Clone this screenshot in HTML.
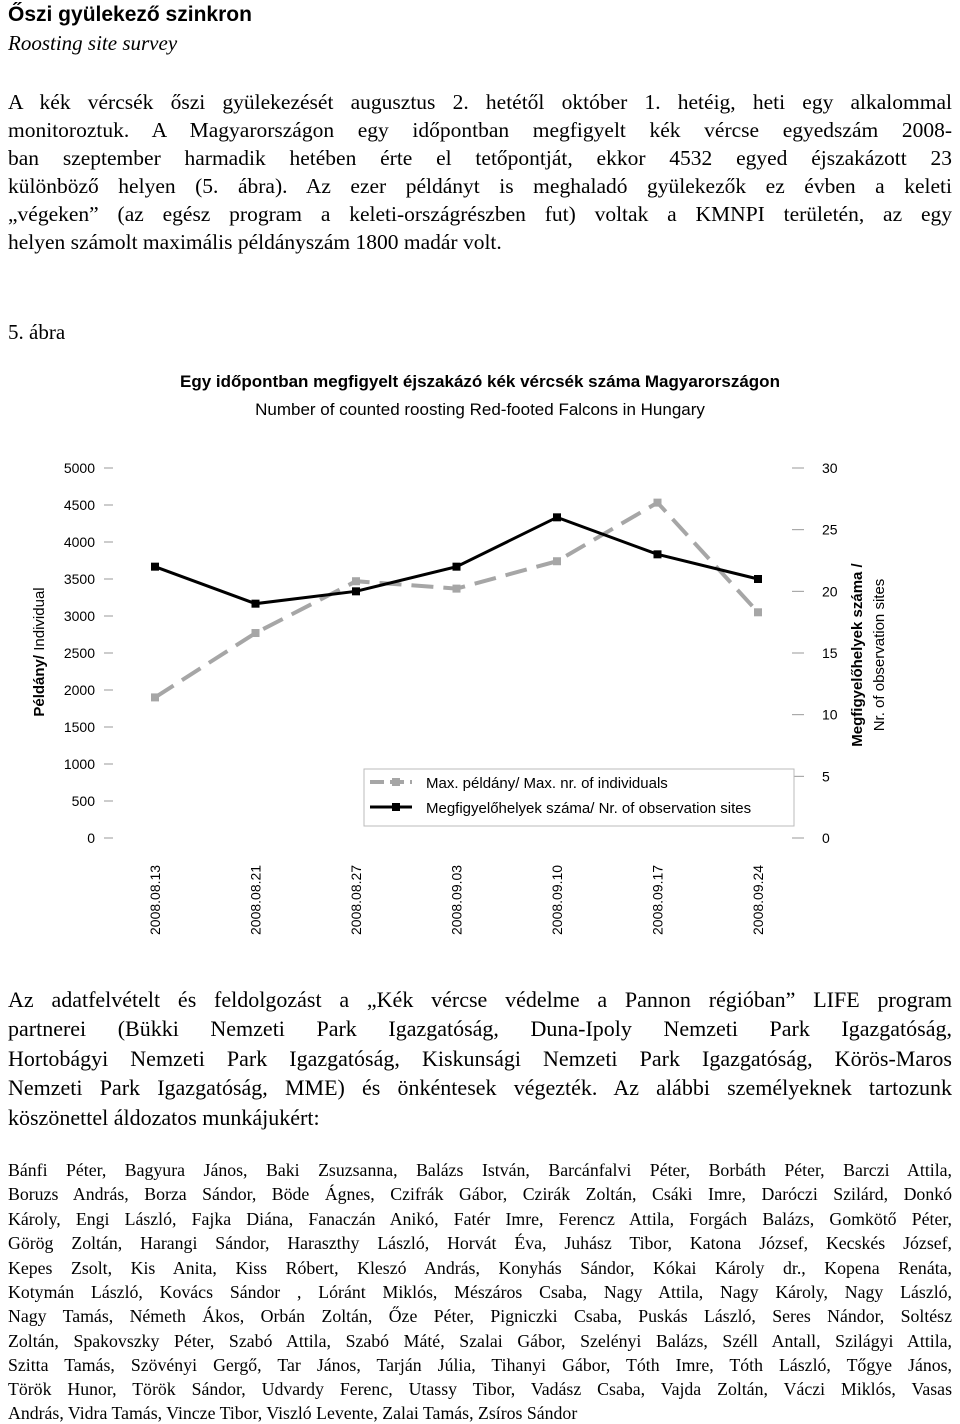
<!DOCTYPE html>
<html><head><meta charset="utf-8"><style>
body{margin:0;width:960px;height:1424px;position:relative;background:#fff;overflow:hidden}
.t{position:absolute;left:8px;width:944px;font-family:"Liberation Serif",serif;white-space:nowrap}
.j{text-align:justify;text-align-last:justify;white-space:normal}
.s{font-family:"Liberation Sans",sans-serif}
</style></head><body>
<div class="t s" style="top:3px;font-size:21px;font-weight:bold">Őszi gyülekező szinkron</div>
<div class="t" style="top:31px;font-size:21px;font-style:italic">Roosting site survey</div>
<div style="font-size:21.5px">
<div class="t j" style="top:90px">A kék vércsék őszi gyülekezését augusztus 2. hetétől október 1. hetéig, heti egy alkalommal</div>
<div class="t j" style="top:118px">monitoroztuk. A Magyarországon egy időpontban megfigyelt kék vércse egyedszám 2008-</div>
<div class="t j" style="top:146px">ban szeptember harmadik hetében érte el tetőpontját, ekkor 4532 egyed éjszakázott 23</div>
<div class="t j" style="top:174px">különböző helyen (5. ábra). Az ezer példányt is meghaladó gyülekezők ez évben a keleti</div>
<div class="t j" style="top:202px">„végeken” (az egész program a keleti-országrészben fut) voltak a KMNPI területén, az egy</div>
<div class="t" style="top:230px">helyen számolt maximális példányszám 1800 madár volt.</div>
</div>
<div class="t" style="top:320px;font-size:21px">5. ábra</div>
<div class="t s" style="top:372px;font-size:17px;font-weight:bold;text-align:center">Egy időpontban megfigyelt éjszakázó kék vércsék száma Magyarországon</div>
<div class="t s" style="top:400px;font-size:17px;text-align:center">Number of counted roosting Red-footed Falcons in Hungary</div>
<svg id="chart" style="position:absolute;left:0;top:0" width="960" height="960" font-family="Liberation Sans, sans-serif"></svg>
<div style="font-size:22px">
<div class="t j" style="top:987px">Az adatfelvételt és feldolgozást a „Kék vércse védelme a Pannon régióban” LIFE program</div>
<div class="t j" style="top:1016px">partnerei (Bükki Nemzeti Park Igazgatóság, Duna-Ipoly Nemzeti Park Igazgatóság,</div>
<div class="t j" style="top:1046px">Hortobágyi Nemzeti Park Igazgatóság, Kiskunsági Nemzeti Park Igazgatóság, Körös-Maros</div>
<div class="t j" style="top:1075px">Nemzeti Park Igazgatóság, MME) és önkéntesek végezték. Az alábbi személyeknek tartozunk</div>
<div class="t" style="top:1105px">köszönettel áldozatos munkájukért:</div>
</div>
<div style="font-size:17.8px">
<div class="t j" style="top:1160px">Bánfi Péter, Bagyura János, Baki Zsuzsanna, Balázs István, Barcánfalvi Péter, Borbáth Péter, Barczi Attila,</div>
<div class="t j" style="top:1184px">Boruzs András, Borza Sándor, Böde Ágnes, Czifrák Gábor, Czirák Zoltán, Csáki Imre, Daróczi Szilárd, Donkó</div>
<div class="t j" style="top:1209px">Károly, Engi László, Fajka Diána, Fanaczán Anikó, Fatér Imre, Ferencz Attila, Forgách Balázs, Gomkötő Péter,</div>
<div class="t j" style="top:1233px">Görög Zoltán, Harangi Sándor, Haraszthy László, Horvát Éva, Juhász Tibor, Katona József, Kecskés József,</div>
<div class="t j" style="top:1258px">Kepes Zsolt, Kis Anita, Kiss Róbert, Kleszó András, Konyhás Sándor, Kókai Károly dr., Kopena Renáta,</div>
<div class="t j" style="top:1282px">Kotymán László, Kovács Sándor , Lóránt Miklós, Mészáros Csaba, Nagy Attila, Nagy Károly, Nagy László,</div>
<div class="t j" style="top:1306px">Nagy Tamás, Németh Ákos, Orbán Zoltán, Őze Péter, Pigniczki Csaba, Puskás László, Seres Nándor, Soltész</div>
<div class="t j" style="top:1331px">Zoltán, Spakovszky Péter, Szabó Attila, Szabó Máté, Szalai Gábor, Szelényi Balázs, Széll Antall, Szilágyi Attila,</div>
<div class="t j" style="top:1355px">Szitta Tamás, Szövényi Gergő, Tar János, Tarján Júlia, Tihanyi Gábor, Tóth Imre, Tóth László, Tőgye János,</div>
<div class="t j" style="top:1379px">Török Hunor, Török Sándor, Udvardy Ferenc, Utassy Tibor, Vadász Csaba, Vajda Zoltán, Váczi Miklós, Vasas</div>
<div class="t" style="top:1403px">András, Vidra Tamás, Vincze Tibor, Viszló Levente, Zalai Tamás, Zsíros Sándor</div>
</div>
<script>
const categories=["2008.08.13","2008.08.21","2008.08.27","2008.09.03","2008.09.10","2008.09.17","2008.09.24"];
const individuals=[1900,2770,3470,3370,3740,4532,3050];
const sites=[22,19,20,22,26,23,21];
const leftTicks=[0,500,1000,1500,2000,2500,3000,3500,4000,4500,5000];
const rightTicks=[0,5,10,15,20,25,30];
const svg=document.getElementById('chart');
const NS='http://www.w3.org/2000/svg';
function mk(tag,a,txt){const e=document.createElementNS(NS,tag);for(const k in a)e.setAttribute(k,a[k]);if(txt!=null)e.textContent=txt;svg.appendChild(e);return e;}
const y0=838,yTop=468;
const yL=v=>y0-(v/5000)*(y0-yTop);
const yR=v=>y0-(v/30)*(y0-yTop);
const xC=i=>155+i*100.5;
leftTicks.forEach(v=>{
 let e=mk('text',{x:95,y:yL(v)+5,'text-anchor':'end','font-size':14},v);
 
 e=mk('line',{x1:104,x2:113,y1:yL(v),y2:yL(v),stroke:'#999'});
 
});
rightTicks.forEach(v=>{
 let e=mk('text',{x:822,y:yR(v)+5,'font-size':14},v);
 
 e=mk('line',{x1:792,x2:804,y1:yR(v),y2:yR(v),stroke:'#999'});
 
});
categories.forEach((c,i)=>{
 const e=mk('text',{x:0,y:0,'font-size':14,transform:`translate(${xC(i)+5},935) rotate(-90)`},c);
 
});
let e=mk('polyline',{points:individuals.map((v,i)=>xC(i)+','+yL(v)).join(' '),fill:'none',stroke:'#a6a6a6','stroke-width':4,'stroke-dasharray':'22,10'});

individuals.forEach((v,i)=>{const r=mk('rect',{x:xC(i)-4,y:yL(v)-4,width:8,height:8,fill:'#a6a6a6'});
 });
e=mk('polyline',{points:sites.map((v,i)=>xC(i)+','+yR(v)).join(' '),fill:'none',stroke:'#000','stroke-width':3});

sites.forEach((v,i)=>{const r=mk('rect',{x:xC(i)-4,y:yR(v)-4,width:8,height:8,fill:'#000'});
 });
e=mk('rect',{x:364,y:769,width:430,height:57,fill:'#fff',stroke:'#bbb'});

e=mk('line',{x1:370,x2:412,y1:782,y2:782,stroke:'#a6a6a6','stroke-width':4,'stroke-dasharray':'14,6'});

mk('rect',{x:392,y:778,width:8,height:8,fill:'#a6a6a6'});
e=mk('text',{x:426,y:788,'font-size':15},'Max. példány/ Max. nr. of individuals');

e=mk('line',{x1:370,x2:412,y1:807,y2:807,stroke:'#000','stroke-width':3});

mk('rect',{x:392,y:803,width:8,height:8,fill:'#000'});
e=mk('text',{x:426,y:813,'font-size':15},'Megfigyelőhelyek száma/ Nr. of observation sites');

e=mk('text',{x:0,y:0,'font-size':15,'text-anchor':'middle',transform:'translate(44,652) rotate(-90)'});

e.innerHTML='<tspan font-weight="bold">Példány/</tspan> Individual';
e=mk('text',{x:0,y:0,'font-size':15,'font-weight':'bold','text-anchor':'middle',transform:'translate(862,655) rotate(-90)'},'Megfigyelőhelyek száma /');

e=mk('text',{x:0,y:0,'font-size':15,'text-anchor':'middle',transform:'translate(884,655) rotate(-90)'},'Nr. of observation sites');

</script>
</body></html>
